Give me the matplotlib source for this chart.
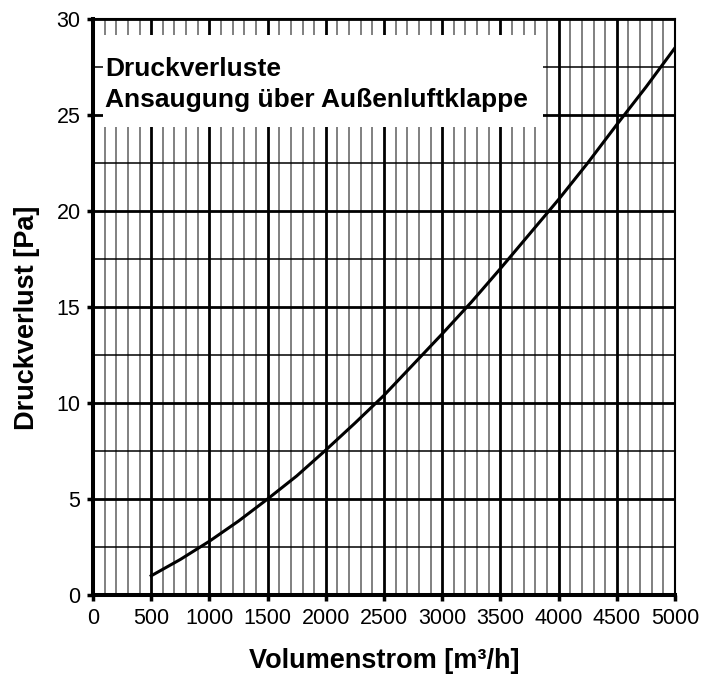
import matplotlib
matplotlib.use("Agg")
import matplotlib.pyplot as plt
from matplotlib.ticker import MultipleLocator
from matplotlib.patches import Rectangle

plt.rcParams['font.family'] = ['Liberation Sans', 'DejaVu Sans']

# Volumenstrom [m³/h] und Druckverlust [Pa]
volumenstrom = [500, 750, 1000, 1250, 1500, 1750, 2000, 2250, 2500, 2750,
                3000, 3250, 3500, 3750, 4000, 4250, 4500, 4750, 5000]
druckverlust = [1.0, 1.85, 2.8, 3.85, 5.0, 6.2, 7.55, 8.95, 10.4, 12.0,
                13.6, 15.25, 17.0, 18.8, 20.6, 22.5, 24.5, 26.45, 28.5]

titel_1 = "Druckverluste"
titel_2 = "Ansaugung über Außenluftklappe"

fig = plt.figure(figsize=(7.12, 6.78), dpi=100)
ax = fig.add_axes([93 / 712, 1 - 595 / 678, 582 / 712, 576 / 678])

ax.set_xlim(0, 5000)
ax.set_ylim(0, 30)
ax.xaxis.set_major_locator(MultipleLocator(500))
ax.xaxis.set_minor_locator(MultipleLocator(100))
ax.yaxis.set_major_locator(MultipleLocator(5))
ax.yaxis.set_minor_locator(MultipleLocator(2.5))

# Gitter
ax.grid(which='minor', axis='x', color='#808080', lw=1.4, zorder=1)
ax.grid(which='minor', axis='y', color='black', lw=1.1, zorder=1)
ax.grid(which='major', axis='both', color='black', lw=2.0, zorder=2)
ax.set_axisbelow(True)

# Kurve
ax.plot(volumenstrom, druckverlust, color='black', lw=2.2, zorder=4)

# Textfeld mit weißem Hintergrund
ax.add_patch(Rectangle((10 / 582, 1 - 108 / 576), 440 / 582, 92 / 576,
                       transform=ax.transAxes, facecolor='white',
                       edgecolor='none', zorder=3))
ax.text(12 / 582, 1 - 57 / 576, titel_1, transform=ax.transAxes,
        fontsize=19, fontweight='bold', va='baseline', zorder=5)
ax.text(12 / 582, 1 - 88 / 576, titel_2, transform=ax.transAxes,
        fontsize=19, fontweight='bold', va='baseline', zorder=5)

# Achsen
for side in ['left', 'bottom']:
    ax.spines[side].set_linewidth(2.9)
for side in ['top', 'right']:
    ax.spines[side].set_linewidth(1.5)
ax.tick_params(which='major', direction='out', length=4, width=2.5,
               labelsize=15.5, pad=5)
ax.tick_params(which='minor', length=0)

ax.set_xlabel("Volumenstrom [m³/h]", fontsize=19.5, fontweight='bold', labelpad=14)
ax.set_ylabel("Druckverlust [Pa]", fontsize=19.5, fontweight='bold', labelpad=12)
ax.yaxis.label.set_y(0.482)

fig.savefig("out.png", dpi=100)
